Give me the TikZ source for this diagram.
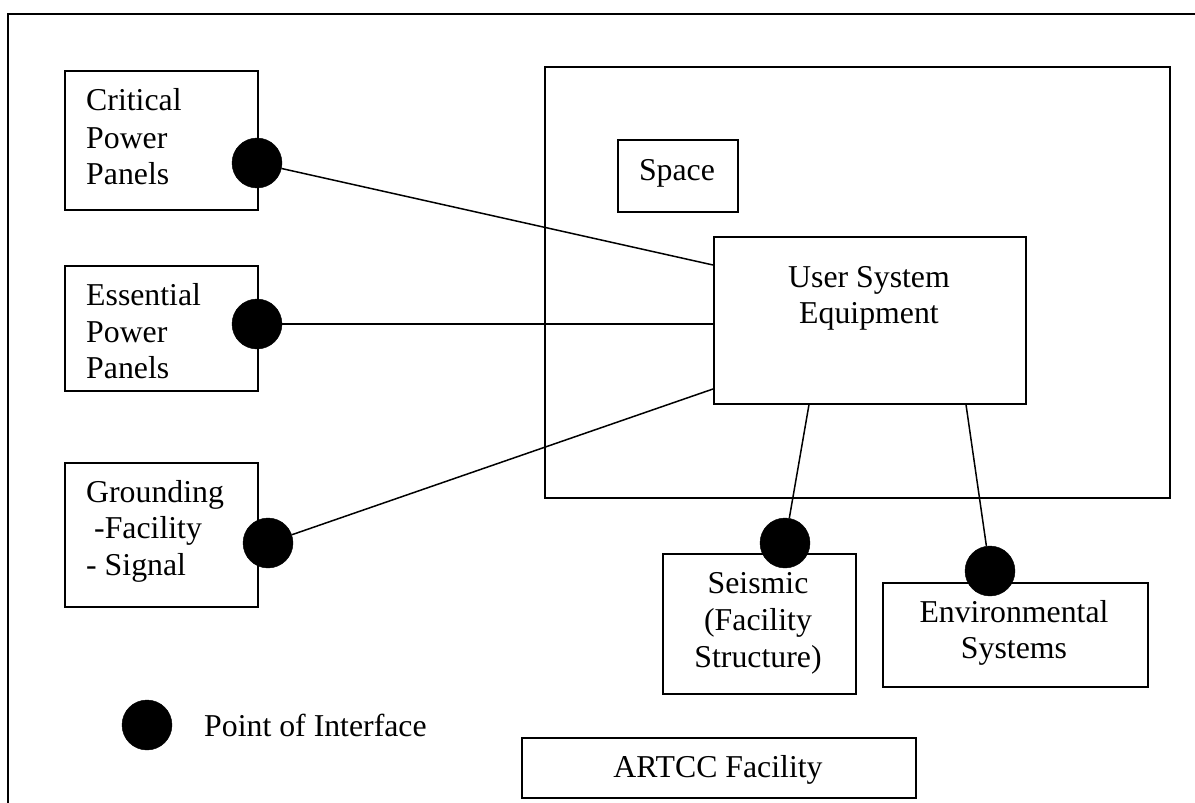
\documentclass[tikz,border=0pt]{standalone}
\usepackage{fontspec}
\setmainfont{Liberation Serif}
\usetikzlibrary{calc}
\begin{document}
\begin{tikzpicture}[x=1pt,y=-1pt,
  box/.style={draw,line width=1.6pt,inner sep=0pt,anchor=north west},
  dot/.style={circle,fill=black,draw=black,inner sep=0pt,minimum size=50pt},
  lbl/.style={font=\fontsize{31.8}{37}\selectfont,inner sep=0pt},
  wire/.style={line width=1.5pt}]
\useasboundingbox (0,0) rectangle (1195,803);
% outer frame (cut off at right and bottom)
\draw[line width=1.6pt] (8,803) -- (8,14) -- (1195,14);
% boxes
\node[box,minimum width=193pt,minimum height=139pt] (cp) at (64,70) {};
\node[box,minimum width=193pt,minimum height=125pt] (ep) at (64,265) {};
\node[box,minimum width=193pt,minimum height=144pt] (gr) at (64,462) {};
\node[box,minimum width=625pt,minimum height=431pt] (room) at (544,66) {};
\node[box,minimum width=120pt,minimum height=72pt] (space) at (617,139) {};
\node[box,minimum width=312pt,minimum height=167pt] (use) at (713,236) {};
\node[box,minimum width=193pt,minimum height=140pt] (seis) at (662,553) {};
\node[box,minimum width=265pt,minimum height=104pt] (env) at (882,582) {};
\node[box,minimum width=394pt,minimum height=60pt] (artcc) at (521,737) {};
% points of interface
\node[dot] (cpd) at (257,163) {};
\node[dot] (epd) at (257,324) {};
\node[dot] (grd) at (268,543) {};
\node[dot] (seisd) at (785,543) {};
\node[dot] (envd) at (990,571) {};
\node[dot] (legd) at (147,725) {};
% connector ends on the equipment box
\coordinate (u1) at ($(use.north west)+(0,29)$);
\coordinate (u3) at ($(use.north west)+(0,153)$);
\coordinate (u4) at ($(use.south west)+(96,0)$);
\coordinate (u5) at ($(use.south west)+(253,0)$);
% connectors
\draw[wire] (cpd) -- (u1);
\draw[wire] (epd) -- (epd -| use.west);
\draw[wire] (grd) -- (u3);
\draw[wire] (u4) -- (seisd);
\draw[wire] (u5) -- (envd);
% texts
\node[lbl,anchor=base west] (cpt1) at (86,110) {Critical};
\node[lbl,anchor=base west] (cpt2) at (86,148) {Power};
\node[lbl,anchor=base west] (cpt3) at (86,184) {Panels};
\node[lbl,anchor=base west] (ept1) at (86,305) {Essential};
\node[lbl,anchor=base west] (ept2) at (86,342) {Power};
\node[lbl,anchor=base west] (ept3) at (86,378) {Panels};
\node[lbl,anchor=base west] (grt1) at (86,502) {Grounding};
\node[lbl,anchor=base west] (grt2) at (94,538) {-Facility};
\node[lbl,anchor=base west] (grt3) at (86,575) {- Signal};
\node[lbl,anchor=base] (spt) at (677,180) {Space};
\node[lbl,anchor=base] (uset1) at (869,287) {User System};
\node[lbl,anchor=base] (uset2) at (869,323) {Equipment};
\node[lbl,anchor=base] (seist1) at (758,593) {Seismic};
\node[lbl,anchor=base] (seist2) at (758,630) {(Facility};
\node[lbl,anchor=base] (seist3) at (758,667) {Structure)};
\node[lbl,anchor=base] (envt1) at (1014,622) {Environmental};
\node[lbl,anchor=base] (envt2) at (1014,658) {Systems};
\node[lbl,anchor=base] (artcct) at (718,777) {ARTCC Facility};
\node[lbl,anchor=base west] (legt) at (204,736) {Point of Interface};
\end{tikzpicture}
\end{document}
